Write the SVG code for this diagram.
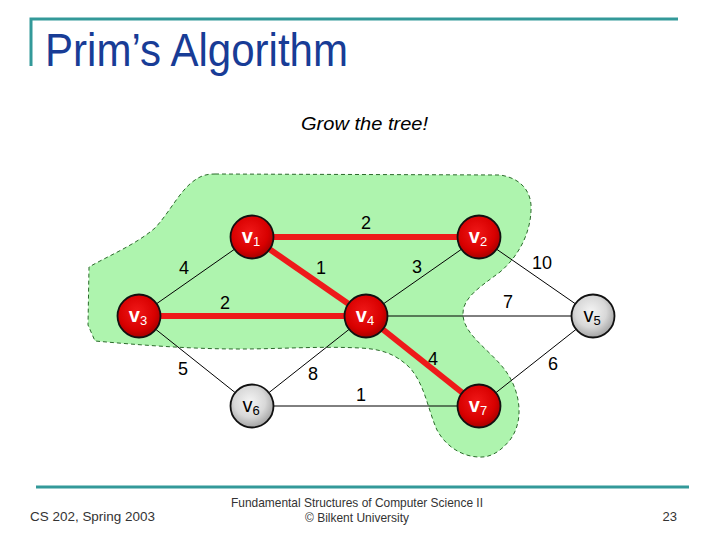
<svg xmlns="http://www.w3.org/2000/svg" width="720" height="540" viewBox="0 0 720 540">
<style>
.lbl{font-family:"Liberation Sans",Arial,sans-serif;font-size:18px;fill:#000;text-anchor:middle}
.nt{font-family:"Liberation Sans",Arial,sans-serif;text-anchor:middle}
.red .nt{fill:#fff;font-weight:bold;font-size:20px}
.gray .nt{fill:#000;font-size:20px}
.sub{font-size:13px;font-weight:normal}
.thin{stroke:#000;stroke-width:1;fill:none}
.thick{stroke:#EE1A1A;stroke-width:6;fill:none}
.foot{font-family:"Liberation Sans",Arial,sans-serif;font-size:13px;fill:#333}
</style>
<defs>
<radialGradient id="gRed" cx="45%" cy="40%" r="60%">
<stop offset="0" stop-color="#F01818"/>
<stop offset="0.7" stop-color="#D80000"/>
<stop offset="1" stop-color="#A80000"/>
</radialGradient>
<radialGradient id="gGray" cx="45%" cy="40%" r="60%">
<stop offset="0" stop-color="#F4F4F4"/>
<stop offset="0.6" stop-color="#D8D8D8"/>
<stop offset="1" stop-color="#A4A4A4"/>
</radialGradient>
</defs>
<rect width="720" height="540" fill="#fff"/>
<g id="header">
<polyline points="31,66 31,19 678,19" fill="none" stroke="#339999" stroke-width="3"/>
<text x="45" y="66" font-family="'Liberation Sans',Arial,sans-serif" font-size="46" fill="#183C96" textLength="303" lengthAdjust="spacingAndGlyphs">Prim’s Algorithm</text>
</g>
<text x="301" y="130" font-family="'Liberation Sans',Arial,sans-serif" font-size="19" font-style="italic" fill="#000" textLength="127" lengthAdjust="spacingAndGlyphs">Grow the tree!</text>
<path id="tree" d="M215,174 L500,175 C520,178 530,190 531,205 C532,230 520,255 500,272 C480,287 462,298 463,315 C464,335 490,350 505,370 C520,390 525,420 510,440 C500,452 490,458 478,457 C460,456 445,445 437,430 C428,410 425,385 410,368 C395,353 380,349 360,348 C320,346 280,349 240,349 C190,349 140,345 95,341 L88,325 L89,267 C110,255 135,245 155,228 C170,212 180,190 195,180 C202,175 208,174 215,174 Z" fill="#AEF4AE" stroke="#2A6A2A" stroke-width="1" stroke-dasharray="4,3"/>
<g id="edges">
<line class="thin" x1="252" y1="237" x2="139" y2="316"/>
<line class="thin" x1="479" y1="237" x2="366" y2="316"/>
<line class="thin" x1="479" y1="237" x2="593" y2="316"/>
<line class="thin" x1="366" y1="316" x2="593" y2="316"/>
<line class="thin" x1="139" y1="316" x2="252" y2="406"/>
<line class="thin" x1="366" y1="316" x2="252" y2="406"/>
<line class="thin" x1="593" y1="316" x2="479" y2="406"/>
<line class="thin" x1="252" y1="406" x2="479" y2="406"/>
<line class="thick" x1="252" y1="237" x2="479" y2="237"/>
<line class="thick" x1="252" y1="237" x2="366" y2="316"/>
<line class="thick" x1="139" y1="316" x2="366" y2="316"/>
<line class="thick" x1="366" y1="316" x2="479" y2="406"/>
</g>
<g id="edge-labels">
<text class="lbl" x="366" y="229">2</text>
<text class="lbl" x="321" y="274">1</text>
<text class="lbl" x="184" y="274">4</text>
<text class="lbl" x="417" y="273">3</text>
<text class="lbl" x="542" y="269">10</text>
<text class="lbl" x="225" y="309">2</text>
<text class="lbl" x="508" y="308">7</text>
<text class="lbl" x="183" y="375">5</text>
<text class="lbl" x="313" y="380">8</text>
<text class="lbl" x="433" y="365">4</text>
<text class="lbl" x="553" y="370">6</text>
<text class="lbl" x="361" y="401">1</text>
</g>
<g id="v1" class="red"><circle cx="252" cy="237" r="21.5" fill="url(#gRed)" stroke="#111" stroke-width="1.8"/><text class="nt" x="251" y="243">v<tspan class="sub" dy="3">1</tspan></text></g>
<g id="v2" class="red"><circle cx="479" cy="237" r="21.5" fill="url(#gRed)" stroke="#111" stroke-width="1.8"/><text class="nt" x="478" y="243">v<tspan class="sub" dy="3">2</tspan></text></g>
<g id="v3" class="red"><circle cx="139" cy="316" r="21.5" fill="url(#gRed)" stroke="#111" stroke-width="1.8"/><text class="nt" x="138" y="322">v<tspan class="sub" dy="3">3</tspan></text></g>
<g id="v4" class="red"><circle cx="366" cy="316" r="21.5" fill="url(#gRed)" stroke="#111" stroke-width="1.8"/><text class="nt" x="365" y="322">v<tspan class="sub" dy="3">4</tspan></text></g>
<g id="v5" class="gray"><circle cx="593" cy="316" r="21.5" fill="url(#gGray)" stroke="#111" stroke-width="1.8"/><text class="nt" x="592" y="322">v<tspan class="sub" dy="3">5</tspan></text></g>
<g id="v6" class="gray"><circle cx="252" cy="406" r="21.5" fill="url(#gGray)" stroke="#111" stroke-width="1.8"/><text class="nt" x="251" y="412">v<tspan class="sub" dy="3">6</tspan></text></g>
<g id="v7" class="red"><circle cx="479" cy="406" r="21.5" fill="url(#gRed)" stroke="#111" stroke-width="1.8"/><text class="nt" x="478" y="412">v<tspan class="sub" dy="3">7</tspan></text></g>
<g id="footer">
<line x1="36" y1="487" x2="689" y2="487" stroke="#339999" stroke-width="3"/>
<text class="foot" x="30" y="521" textLength="125" lengthAdjust="spacingAndGlyphs">CS 202, Spring 2003</text>
<text class="foot" x="231" y="507" textLength="252" lengthAdjust="spacingAndGlyphs">Fundamental Structures of Computer Science II</text>
<text class="foot" x="305" y="522" textLength="104" lengthAdjust="spacingAndGlyphs">© Bilkent University</text>
<text class="foot" x="677" y="521" text-anchor="end">23</text>
</g>
</svg>
